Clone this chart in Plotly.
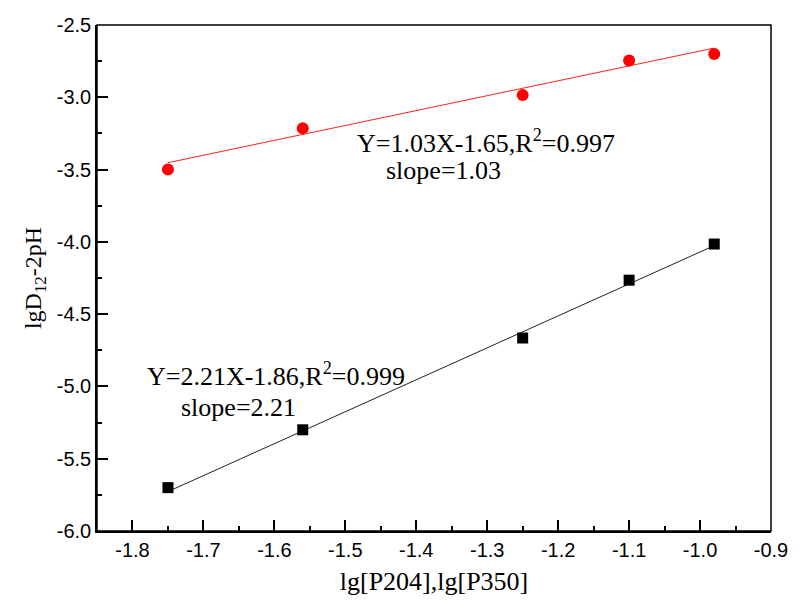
import numpy as np
import plotly.graph_objects as go

# Extractant concentration, lg[P204] / lg[P350]
x_p350 = [-1.75, -1.56, -1.25, -1.10, -0.98]
y_p350 = [-3.50, -3.215, -2.985, -2.745, -2.70]

x_p204 = [-1.75, -1.56, -1.25, -1.10, -0.98]
y_p204 = [-5.70, -5.30, -4.665, -4.265, -4.015]

# Linear fit coefficients (slope, intercept)
fit_p350 = (1.03, -1.65)
fit_p204 = (2.21, -1.86)

x_ticks = [-1.8, -1.7, -1.6, -1.5, -1.4, -1.3, -1.2, -1.1, -1.0, -0.9]
y_ticks = [-2.5, -3.0, -3.5, -4.0, -4.5, -5.0, -5.5, -6.0]

def fit_line(xs, coef):
    xs = np.array([min(xs), max(xs)])
    return xs, coef[0] * xs + coef[1]

fig = go.Figure()

lx, ly = fit_line(x_p350, fit_p350)
fig.add_trace(go.Scatter(x=lx, y=ly, mode="lines",
                         line=dict(color="#ff2020", width=1), showlegend=False))
lx, ly = fit_line(x_p204, fit_p204)
fig.add_trace(go.Scatter(x=lx, y=ly, mode="lines",
                         line=dict(color="#222222", width=1), showlegend=False))

fig.add_trace(go.Scatter(x=x_p350, y=y_p350, mode="markers",
                         marker=dict(symbol="circle", size=12, color="#ff0000",
                                     line=dict(width=0)), showlegend=False))
fig.add_trace(go.Scatter(x=x_p204, y=y_p204, mode="markers",
                         marker=dict(symbol="square", size=11, color="#000000",
                                     line=dict(width=0)), showlegend=False))

serif = "Liberation Serif, Times New Roman, serif"
sans = "Liberation Sans, Arial, sans-serif"

annots = [
    (-1.487, -3.305, "Y=1.03X-1.65,R<sup>2</sup>=0.997"),
    (-1.445, -3.505, "slope=1.03"),
    (-1.783, -4.92, "Y=2.21X-1.86,R<sup>2</sup>=0.999"),
    (-1.735, -5.148, "slope=2.21"),
]
for ax_, ay_, txt in annots:
    fig.add_annotation(x=ax_, y=ay_, xref="x", yref="y", text=txt,
                       showarrow=False, xanchor="left", yanchor="middle",
                       font=dict(family=serif, size=26, color="black"))

# Plain frame on top and right (no ticks there)
fig.add_shape(type="rect", xref="paper", yref="paper", x0=0, y0=0, x1=1, y1=1,
              line=dict(color="black", width=1.5), fillcolor="rgba(0,0,0,0)")

axis_common = dict(showgrid=False, zeroline=False, showline=True,
                   linecolor="black", linewidth=1.5, ticks="inside",
                   ticklen=11, tickwidth=1.5, tickcolor="black",
                   tickfont=dict(family=sans, size=20, color="black"),
                   minor=dict(ticks="inside", ticklen=5, tickwidth=1.5,
                              tickcolor="black"))

fig.update_xaxes(range=[-1.85, -0.9], tickvals=x_ticks,
                 ticktext=[f"{v:.1f}" for v in x_ticks],
                 minor_dtick=0.05, minor_tick0=-1.85,
                 title=dict(text="lg[P204],lg[P350]",
                            font=dict(family=serif, size=26, color="black"),
                            standoff=12),
                 **axis_common)
fig.update_yaxes(range=[-6.0, -2.5], tickvals=y_ticks,
                 ticktext=[f"{v:.1f}" for v in y_ticks],
                 minor_dtick=0.25, minor_tick0=-6.0,
                 title=dict(text="lgD<sub>12</sub>-2pH",
                            font=dict(family=serif, size=24, color="black"),
                            standoff=8),
                 **axis_common)

fig.update_layout(width=800, height=604,
                  margin=dict(l=97, r=20, t=25, b=73),
                  paper_bgcolor="white", plot_bgcolor="white")

fig.write_html("out.html")
